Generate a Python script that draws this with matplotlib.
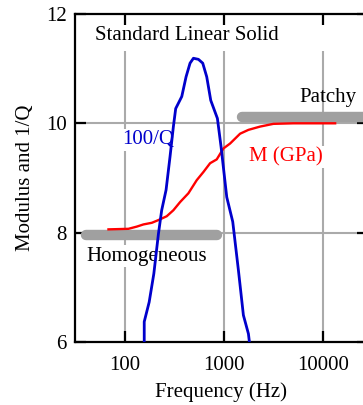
import numpy as np
import matplotlib
matplotlib.use('Agg')
import matplotlib.pyplot as plt

plt.rcParams['font.family'] = ['Liberation Serif', 'DejaVu Serif']

# 100/Q curve (blue)
q_freq = [156, 156, 175, 195, 217, 234, 259, 284, 307, 324, 373, 412, 452, 489,
          549, 607, 666, 731, 853, 929, 1060, 1218, 1390, 1560, 1753, 1794]
q_val = [6.0, 6.37, 6.73, 7.25, 7.98, 8.41, 8.78, 9.39, 9.94, 10.27, 10.49, 10.85,
         11.10, 11.19, 11.17, 11.10, 10.85, 10.42, 10.09, 9.57, 8.65, 8.20, 7.31,
         6.49, 6.15, 6.0]

# modulus curve (red)
m_freq = [68, 108, 131, 153, 186, 217, 263, 307, 359, 435, 528, 617, 720, 840,
          981, 1145, 1445, 1753, 2297, 3130, 4980, 13130]
m_val = [8.06, 8.07, 8.11, 8.15, 8.18, 8.23, 8.30, 8.41, 8.56, 8.72, 8.96, 9.11,
         9.27, 9.34, 9.54, 9.63, 9.81, 9.88, 9.94, 9.99, 10.0, 10.0]

# homogeneous / patchy bands
homog_freq = [40.5, 853]
homog_val = [7.95, 7.95]
patchy_freq = [1500, 40000]
patchy_val = [10.11, 10.11]

xticks = [100, 1000, 10000]
yticks = [6, 8, 10, 12]

fig = plt.figure(figsize=(3.63, 4.05), dpi=100)
ax = fig.add_axes([0.2066, 0.1556, 0.807, 0.8099])

ax.set_xscale('log')
ax.set_xlim(10**1.495, 10**4.449)
ax.set_ylim(6, 12)
ax.set_xticks(xticks)
ax.set_xticklabels([str(t) for t in xticks])
ax.set_yticks(yticks)
ax.minorticks_off()

# grid: horizontal lines full width, vertical ones stop below the title
for yv in [8, 10]:
    ax.axhline(yv, color='#aaaaaa', lw=1.5, zorder=1)
ax.vlines(xticks, 6, 11.32, color='#aaaaaa', lw=1.5, zorder=1)

for s in ax.spines.values():
    s.set_linewidth(1.6)
ax.tick_params(direction='in', length=8, width=1.6, top=True, right=True,
               labelsize=15)
ax.tick_params(axis='x', pad=10)
ax.tick_params(axis='y', pad=6)

ax.plot(homog_freq, homog_val, color='#a0a0a0', lw=7.5, solid_capstyle='round', zorder=3)
ax.plot(patchy_freq, patchy_val, color='#a0a0a0', lw=7.5, solid_capstyle='round', zorder=3)
ax.plot(m_freq, m_val, color='red', lw=1.7, zorder=4)
ax.plot(q_freq, q_val, color='#0000cc', lw=2, zorder=4)

box = dict(facecolor='white', edgecolor='none', pad=1)
ax.text(423, 11.6, 'Standard Linear Solid', fontsize=15, ha='center', va='center', zorder=2)
ax.text(11200, 10.48, 'Patchy', fontsize=15, ha='center', va='center', zorder=2)
ax.text(171, 9.70, '100/Q', fontsize=15, color='#0000cc', ha='center', va='center', bbox=box, zorder=2)
ax.text(4230, 9.38, 'M (GPa)', fontsize=15, color='red', ha='center', va='center', bbox=box, zorder=2)
ax.text(167, 7.57, 'Homogeneous', fontsize=15, ha='center', va='center', bbox=box, zorder=2)

ax.set_xlabel('Frequency (Hz)', fontsize=15, labelpad=5)
ax.set_ylabel('Modulus and 1/Q', fontsize=15, labelpad=8)

fig.savefig('out.png', dpi=100)
